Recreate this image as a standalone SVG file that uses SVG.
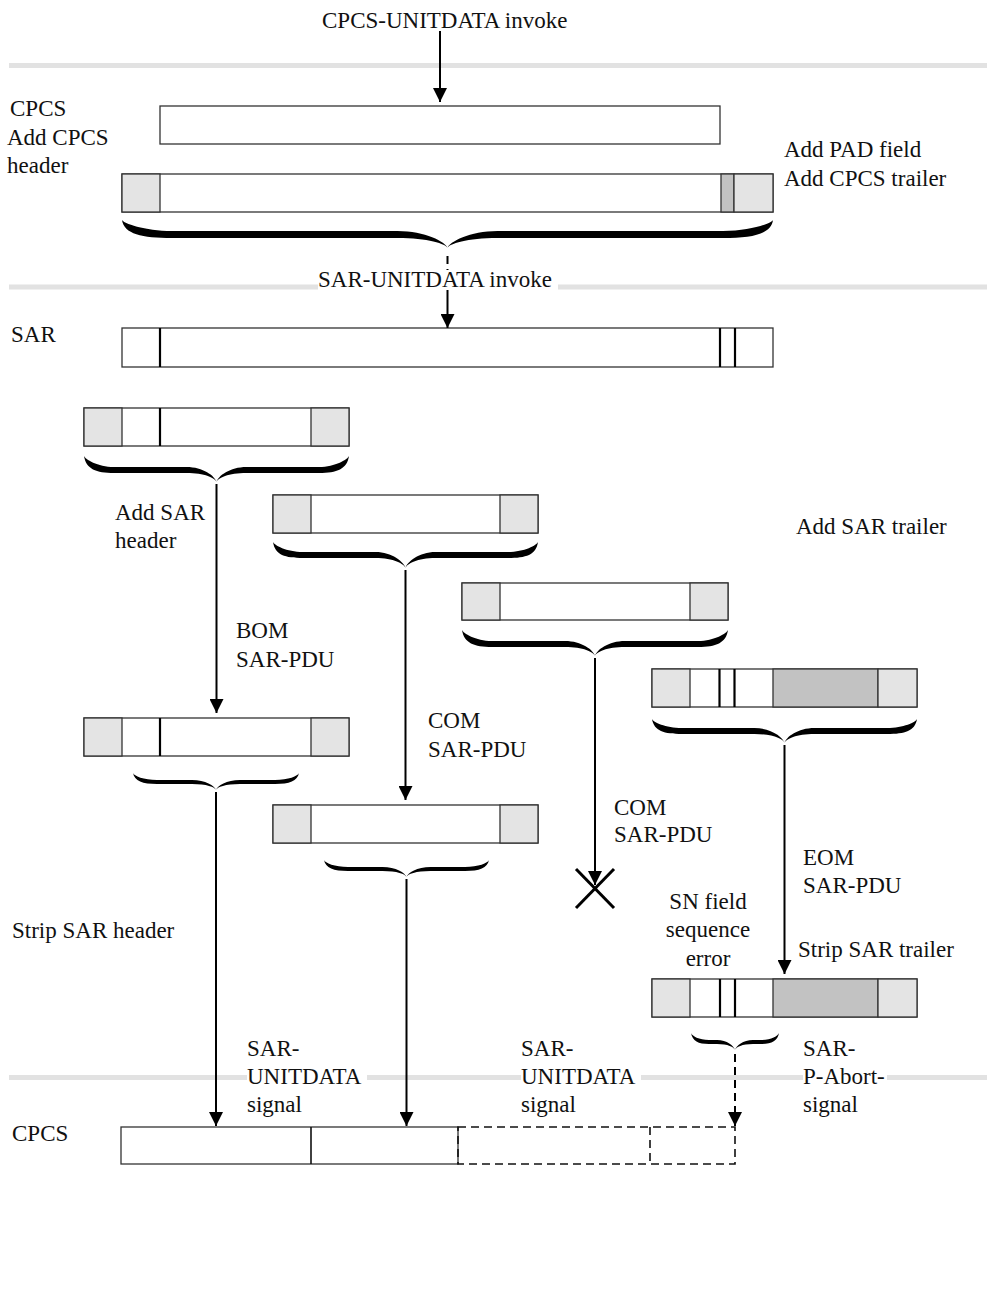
<svg xmlns="http://www.w3.org/2000/svg" width="987" height="1307" viewBox="0 0 987 1307">
<style>
text{font-family:"Liberation Serif","Times New Roman",serif;font-size:23px;fill:#111}
.band{fill:#e2e2e2}
.box{fill:#fff;stroke:#333;stroke-width:1.3}
.hd{fill:#e4e4e4;stroke:#333;stroke-width:1.3}
.pad{fill:#c2c2c2;stroke:#333;stroke-width:1.3}
.dv{stroke:#000;stroke-width:2.2}
.brace{fill:#000}
.conn{stroke:#000;stroke-width:2;fill:none}
.dash{stroke-dasharray:8 5}
.dbox{fill:none;stroke:#111;stroke-width:1.6;stroke-dasharray:8 5}
</style>
<defs>
<marker id="ah" markerUnits="userSpaceOnUse" markerWidth="14" markerHeight="14" refX="14" refY="7" orient="auto">
<path d="M0,0 L14,7 L0,14 Z" fill="#000"/>
</marker>
</defs>
<rect width="987" height="1307" fill="#fff"/>
<g id="bands">
<rect class="band" x="9" y="63" width="978" height="5"/>
<rect class="band" x="9" y="284.5" width="309" height="5"/>
<rect class="band" x="558" y="284.5" width="429" height="5"/>
<rect class="band" x="9" y="1075" width="238" height="5"/>
<rect class="band" x="367" y="1075" width="154" height="5"/>
<rect class="band" x="641" y="1075" width="162" height="5"/>
<rect class="band" x="887" y="1075" width="100" height="5"/>
</g>
<g id="labels">
<text x="322" y="28">CPCS-UNITDATA invoke</text>
<text x="10" y="116">CPCS</text>
<text x="7" y="145">Add CPCS</text>
<text x="7" y="173">header</text>
<text x="784" y="157">Add PAD field</text>
<text x="784" y="186">Add CPCS trailer</text>
<text x="318" y="287">SAR-UNITDATA invoke</text>
<text x="11" y="342">SAR</text>
<text x="115" y="520">Add SAR</text>
<text x="115" y="548">header</text>
<text x="796" y="534">Add SAR trailer</text>
<text x="236" y="638">BOM</text>
<text x="236" y="667">SAR-PDU</text>
<text x="428" y="728">COM</text>
<text x="428" y="757">SAR-PDU</text>
<text x="614" y="815">COM</text>
<text x="614" y="842">SAR-PDU</text>
<text x="803" y="865">EOM</text>
<text x="803" y="893">SAR-PDU</text>
<text x="708" y="909" text-anchor="middle">SN field</text>
<text x="708" y="937" text-anchor="middle">sequence</text>
<text x="708" y="966" text-anchor="middle">error</text>
<text x="798" y="957">Strip SAR trailer</text>
<text x="12" y="938">Strip SAR header</text>
<text x="247" y="1056">SAR-</text>
<text x="247" y="1084">UNITDATA</text>
<text x="247" y="1112">signal</text>
<text x="521" y="1056">SAR-</text>
<text x="521" y="1084">UNITDATA</text>
<text x="521" y="1112">signal</text>
<text x="803" y="1056">SAR-</text>
<text x="803" y="1084">P-Abort-</text>
<text x="803" y="1112">signal</text>
<text x="12" y="1141">CPCS</text>
</g>
<g id="cpcs-sdu">
<rect class="box" x="160" y="106" width="560" height="38"/>
</g>
<g id="cpcs-pdu">
<rect class="box" x="122" y="174" width="651" height="38"/>
<rect class="hd" x="122" y="174" width="38" height="38"/>
<rect class="pad" x="721" y="174" width="13" height="38"/>
<rect class="hd" x="734" y="174" width="39" height="38"/>
</g>
<g id="sar-sdu">
<rect class="box" x="122" y="328" width="651" height="39"/>
<line class="dv" x1="160" y1="328" x2="160" y2="367"/>
<line class="dv" x1="720" y1="328" x2="720" y2="367"/>
<line class="dv" x1="735" y1="328" x2="735" y2="367"/>
</g>
<g id="bom-tx">
<rect class="box" x="84" y="408" width="265" height="38"/>
<rect class="hd" x="84" y="408" width="38" height="38"/>
<rect class="hd" x="311" y="408" width="38" height="38"/>
<line class="dv" x1="160" y1="408" x2="160" y2="446"/>
</g>
<g id="com1-tx">
<rect class="box" x="273" y="495" width="265" height="38"/>
<rect class="hd" x="273" y="495" width="38" height="38"/>
<rect class="hd" x="500" y="495" width="38" height="38"/>
</g>
<g id="com2-tx">
<rect class="box" x="462" y="583" width="266" height="37"/>
<rect class="hd" x="462" y="583" width="38" height="37"/>
<rect class="hd" x="690" y="583" width="38" height="37"/>
</g>
<g id="eom-tx">
<rect class="box" x="652" y="669" width="265" height="38"/>
<rect class="hd" x="652" y="669" width="38" height="38"/>
<rect class="pad" x="773" y="669" width="105" height="38"/>
<rect class="hd" x="878" y="669" width="39" height="38"/>
<line class="dv" x1="719.5" y1="669" x2="719.5" y2="707"/>
<line class="dv" x1="734.5" y1="669" x2="734.5" y2="707"/>
</g>
<g id="bom-rx">
<rect class="box" x="84" y="718" width="265" height="38"/>
<rect class="hd" x="84" y="718" width="38" height="38"/>
<rect class="hd" x="311" y="718" width="38" height="38"/>
<line class="dv" x1="160" y1="718" x2="160" y2="756"/>
</g>
<g id="com-rx">
<rect class="box" x="273" y="805" width="265" height="38"/>
<rect class="hd" x="273" y="805" width="38" height="38"/>
<rect class="hd" x="500" y="805" width="38" height="38"/>
</g>
<g id="eom-rx">
<rect class="box" x="652" y="979" width="265" height="38"/>
<rect class="hd" x="652" y="979" width="38" height="38"/>
<rect class="pad" x="773" y="979" width="105" height="38"/>
<rect class="hd" x="878" y="979" width="39" height="38"/>
<line class="dv" x1="720" y1="979" x2="720" y2="1017"/>
<line class="dv" x1="735" y1="979" x2="735" y2="1017"/>
</g>
<g id="cpcs-rx">
<rect class="box" x="121" y="1127" width="337" height="37"/>
<line x1="311" y1="1127" x2="311" y2="1164" stroke="#111" stroke-width="1.6"/>
<rect class="dbox" x="458" y="1127" width="277" height="37"/>
<line x1="650" y1="1127" x2="650" y2="1164" stroke="#111" stroke-width="1.6" stroke-dasharray="8 5"/>
</g>
<g id="braces" class="brace">
<path d="M122,220 C124,234 142,238 172,238 L397.5,238 C427.5,238 446.5,244 447.5,248 C446,242 425,231 397.5,231 L172,231 C144.5,231 123,223 122,220 Z M773,220 C771,234 753,238 723,238 L497.5,238 C467.5,238 448.5,244 447.5,248 C449,242 470,231 497.5,231 L723,231 C750.5,231 772,223 773,220 Z"/>
<path d="M84,456 C86,469 96,473 114,473 L186.5,473 C204.5,473 215.5,478 216.5,482 C215,476 203,467 186.5,467 L114,467 C97.5,467 85,459 84,456 Z M349,456 C347,469 337,473 319,473 L246.5,473 C228.5,473 217.5,478 216.5,482 C218,476 230,467 246.5,467 L319,467 C335.5,467 348,459 349,456 Z"/>
<path d="M273,542 C275,555 285,558 303,558 L375.5,558 C393.5,558 404.5,564 405.5,568 C404,562 392,552 375.5,552 L303,552 C286.5,552 274,545 273,542 Z M538,542 C536,555 526,558 508,558 L435.5,558 C417.5,558 406.5,564 405.5,568 C407,562 419,552 435.5,552 L508,552 C524.5,552 537,545 538,542 Z"/>
<path d="M462,630 C464,643 474,647 492,647 L565,647 C583,647 594,652 595,656 C593.5,650 581.5,641 565,641 L492,641 C475.5,641 463,633 462,630 Z M728,630 C726,643 716,647 698,647 L625,647 C607,647 596,652 595,656 C596.5,650 608.5,641 625,641 L698,641 C714.5,641 727,633 728,630 Z"/>
<path d="M652,719 C654,731 664,734 682,734 L754.5,734 C772.5,734 783.5,739 784.5,743 C783,737 771,728 754.5,728 L682,728 C665.5,728 653,722 652,719 Z M917,719 C915,731 905,734 887,734 L814.5,734 C796.5,734 785.5,739 784.5,743 C786,737 798,728 814.5,728 L887,728 C903.5,728 916,722 917,719 Z"/>
<path d="M133,773 C134.5,781 142.6,784 157,784 L192,784 C206.4,784 215,787 216,790 C215,786 205.2,780 192,780 L157,780 C143.8,780 134,776 133,773 Z M299,773 C297.5,781 289.4,784 275,784 L240,784 C225.6,784 217,787 216,790 C217,786 226.8,780 240,780 L275,780 C288.2,780 298,776 299,773 Z"/>
<path d="M324,860 C325.5,868 333.6,871 348,871 L382.5,871 C396.9,871 405.5,874 406.5,877 C405.5,873 395.7,867 382.5,867 L348,867 C334.8,867 325,863 324,860 Z M489,860 C487.5,868 479.4,871 465,871 L430.5,871 C416.1,871 407.5,874 406.5,877 C407.5,873 417.3,867 430.5,867 L465,867 C478.2,867 488,863 489,860 Z"/>
<path d="M691,1033 C692.5,1041 698.2,1044 709,1044 L717,1044 C727.8,1044 734,1047 735,1050 C734,1046 726.9,1040 717,1040 L709,1040 C699.1,1040 692,1036 691,1033 Z M779,1033 C777.5,1041 771.8,1044 761,1044 L753,1044 C742.2,1044 736,1047 735,1050 C736,1046 743.1,1040 753,1040 L761,1040 C770.9,1040 778,1036 779,1033 Z"/>
</g>
<g id="connectors">
<line class="conn" x1="440" y1="31" x2="440" y2="102" marker-end="url(#ah)"/>
<line class="conn dash" x1="447.5" y1="256" x2="447.5" y2="270"/>
<line class="conn" x1="447.5" y1="290" x2="447.5" y2="328" marker-end="url(#ah)"/>
<line class="conn" x1="216.5" y1="484" x2="216.5" y2="713" marker-end="url(#ah)"/>
<line class="conn" x1="405.5" y1="570" x2="405.5" y2="800" marker-end="url(#ah)"/>
<line class="conn" x1="595" y1="658" x2="595" y2="885" marker-end="url(#ah)"/>
<line class="conn" x1="784.5" y1="745" x2="784.5" y2="974" marker-end="url(#ah)"/>
<line class="conn" x1="216" y1="792" x2="216" y2="1126" marker-end="url(#ah)"/>
<line class="conn" x1="406.5" y1="879" x2="406.5" y2="1126" marker-end="url(#ah)"/>
<line class="conn dash" x1="735" y1="1054" x2="735" y2="1112"/>
<line class="conn" x1="735" y1="1112" x2="735" y2="1126" marker-end="url(#ah)"/>
<g stroke="#000" stroke-width="3">
<line x1="576" y1="869" x2="614" y2="908"/>
<line x1="614" y1="869" x2="576" y2="908"/>
</g>
</g>
</svg>
